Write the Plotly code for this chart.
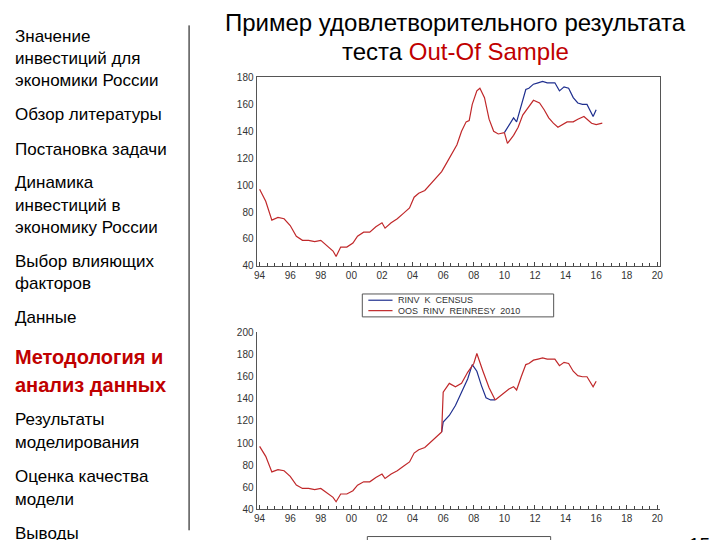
import plotly.graph_objects as go

# ---- data (years as decimals) ----
hist_x = [1994.0, 1994.4, 1994.8, 1995.2, 1995.6, 1996.0, 1996.4, 1996.8, 1997.2, 1997.6,
          1998.0, 1998.4, 1998.8, 1999.0, 1999.3, 1999.7, 2000.1, 2000.4, 2000.8, 2001.2,
          2001.6, 2002.0, 2002.2, 2002.6, 2003.0, 2003.4, 2003.8, 2004.1, 2004.4, 2004.8,
          2005.2, 2005.6, 2005.9]
hist_y = [97, 88, 74, 76, 75, 70, 62, 59, 59, 58,
          59, 55, 51, 47, 54, 54, 57, 62, 65, 65,
          69, 72, 68, 72, 75, 79, 83, 91, 94, 96,
          101, 106, 110]

# actual 2006-2010 (top chart)
act_mid_x = [2006.2, 2006.6, 2006.9, 2007.2, 2007.5, 2007.7, 2007.9, 2008.2, 2008.4, 2008.7,
             2009.0, 2009.3, 2009.6, 2010.0]
act_mid_y = [116, 124, 130, 140, 147, 148, 160, 170, 172, 165,
             149, 140, 138, 139]

# actual 2010-2016
act_late_x = [2010.0, 2010.3, 2010.6, 2010.8, 2011.1, 2011.4, 2011.6, 2011.9, 2012.2, 2012.5,
              2012.8, 2013.1, 2013.3, 2013.6, 2013.9, 2014.2, 2014.5, 2014.8, 2015.1, 2015.4,
              2015.8, 2016.0]
act_late_y = [139, 145, 150, 147, 160, 171, 172, 175, 176, 177,
              176, 176, 176, 170, 173, 172, 165, 161, 160, 160,
              151, 156]

# out-of-sample forecast from 2010
oos10_x = [2010.0, 2010.2, 2010.6, 2010.9, 2011.2, 2011.6, 2011.9, 2012.3, 2012.6, 2012.9,
           2013.2, 2013.5, 2013.8, 2014.1, 2014.5, 2014.8, 2015.2, 2015.4, 2015.7, 2016.0, 2016.4]
oos10_y = [139, 131, 137, 143, 152, 158, 163, 161, 156, 150,
           146, 143, 145, 147, 147, 149, 151, 149, 146, 145, 146]

# bottom chart: actual 2006-2009.4 and forecast from 2006
act06_x = [2005.9, 2006.0, 2006.4, 2006.8, 2007.2, 2007.6, 2007.9, 2008.2, 2008.5, 2008.8, 2009.1, 2009.4]
act06_y = [110, 119, 125, 134, 146, 158, 171, 165, 152, 141, 139, 139]
oos06_x = [2005.9, 2006.0, 2006.4, 2006.8, 2007.2, 2007.6, 2008.0, 2008.2, 2008.6, 2009.0, 2009.4]
oos06_y = [110, 146, 154, 151, 154, 164, 172, 181, 165, 150, 139]
after09_x = [2009.4, 2009.9, 2010.3, 2010.6, 2010.8, 2011.1, 2011.4, 2011.6, 2011.9, 2012.2,
             2012.5, 2012.8, 2013.1, 2013.3, 2013.6, 2013.9, 2014.2, 2014.5, 2014.8, 2015.1,
             2015.4, 2015.8, 2016.0]
after09_y = [139, 145, 149, 151, 148, 160, 171, 172, 175, 176,
             177, 176, 176, 176, 170, 173, 172, 165, 161, 160,
             160, 151, 156]

tick_vals = list(range(1994, 2021, 2))
tick_text = ["94", "96", "98", "00", "02", "04", "06", "08", "10", "12", "14", "16", "18", "20"]

legend1 = ["RINV  K  CENSUS", "OOS  RINV  REINRESY  2010"]
legend2 = ["RINV  K  CENSUS", "OOS_RINV_REINRES_2003"]

BLUE = "#1f2f8f"
RED = "#c0282a"


# screen pixel -> paper coordinate (corrects for the page offset seen in the render)
def PX(x):
    return ((x - 12.2) / 0.986) / 720


def PY(y):
    return 1 - ((y - 13.1) / 0.941) / 540


fig = go.Figure()

# top chart
fig.add_trace(go.Scatter(x=hist_x + act_mid_x, y=hist_y + act_mid_y, mode="lines",
                         line=dict(color=RED, width=1.2), xaxis="x", yaxis="y"))
fig.add_trace(go.Scatter(x=act_late_x, y=act_late_y, mode="lines",
                         line=dict(color=BLUE, width=1.2), xaxis="x", yaxis="y"))
fig.add_trace(go.Scatter(x=oos10_x, y=oos10_y, mode="lines",
                         line=dict(color=RED, width=1.2), xaxis="x", yaxis="y"))

# bottom chart
fig.add_trace(go.Scatter(x=hist_x, y=hist_y, mode="lines",
                         line=dict(color=RED, width=1.2), xaxis="x2", yaxis="y2"))
fig.add_trace(go.Scatter(x=act06_x, y=act06_y, mode="lines",
                         line=dict(color=BLUE, width=1.2), xaxis="x2", yaxis="y2"))
fig.add_trace(go.Scatter(x=oos06_x, y=oos06_y, mode="lines",
                         line=dict(color=RED, width=1.2), xaxis="x2", yaxis="y2"))
fig.add_trace(go.Scatter(x=after09_x, y=after09_y, mode="lines",
                         line=dict(color=RED, width=1.2), xaxis="x2", yaxis="y2"))

ax_common = dict(range=[1993.8, 2020.2], tickvals=tick_vals, ticktext=tick_text,
                 ticks="inside", ticklen=4, showgrid=False, zeroline=False,
                 showline=True, linecolor="#555", tickfont=dict(size=10, color="#333"),
                 minor=dict(ticks="inside", ticklen=3, dtick=0.5, tick0=1994))
ay_common = dict(showgrid=False, zeroline=False, showline=True, linecolor="#555",
                 ticks="", tickfont=dict(size=10, color="#333"), dtick=20)

fig.update_layout(
    width=720, height=540,
    margin=dict(l=0, r=0, t=0, b=0),
    showlegend=False,
    paper_bgcolor="white", plot_bgcolor="white",
    font=dict(family="Liberation Sans, Arial, sans-serif"),
    xaxis=dict(domain=[PX(257), PX(658)], anchor="y", mirror=True, **ax_common),
    yaxis=dict(domain=[PY(256), PY(75)], anchor="x", range=[40, 180], mirror=True, **ay_common),
    xaxis2=dict(domain=[PX(257), PX(658)], anchor="y2", **ax_common),
    yaxis2=dict(domain=[PY(490), PY(320)], anchor="x2", range=[40, 200], **ay_common),
)

# hand-drawn legend boxes (EViews style)
for (x0, x1, y0, y1), names in [((362, 552, 283, 305), legend1), ((367, 549, 516, 538), legend2)]:
    fig.add_shape(type="rect", xref="paper", yref="paper", x0=PX(x0), x1=PX(x1),
                  y0=PY(y1), y1=PY(y0), line=dict(color="#555", width=1))
    for i, (name, col) in enumerate(zip(names, [BLUE, RED])):
        yy = y0 + 6 + i * 10
        fig.add_shape(type="line", xref="paper", yref="paper", x0=PX(x0 + 6), x1=PX(x0 + 30),
                      y0=PY(yy), y1=PY(yy), line=dict(color=col, width=1.2))
        fig.add_annotation(x=PX(x0 + 33), y=PY(yy), xref="paper", yref="paper", text=name,
                           showarrow=False, xanchor="left", yanchor="middle",
                           font=dict(size=9, color="#333"))

# left menu
menu = [
    (36, "Значение"), (57, "инвестиций для"), (78, "экономики России"),
    (111, "Обзор литературы"), (144, "Постановка задачи"),
    (176, "Динамика"), (198, "инвестиций в"), (219, "экономику России"),
    (252, "Выбор влияющих"), (273, "факторов"), (306, "Данные"),
    (404, "Результаты"), (426, "моделирования"),
    (458, "Оценка качества"), (480, "модели"), (513, "Выводы"),
]
for py, txt in menu:
    fig.add_annotation(x=PX(15), y=PY(py), xref="paper", yref="paper", text=txt,
                       showarrow=False, xanchor="left", yanchor="middle",
                       font=dict(size=17, color="black"))
for py, txt in [(344, "Методология и"), (370, "анализ данных")]:
    fig.add_annotation(x=PX(15), y=PY(py), xref="paper", yref="paper",
                       text="<b>" + txt + "</b>", showarrow=False, xanchor="left",
                       yanchor="middle", font=dict(size=20, color="#c00000"))

fig.add_shape(type="line", xref="paper", yref="paper", x0=PX(190), x1=PX(190),
              y0=PY(25), y1=PY(510), line=dict(color="black", width=1))

# title
fig.add_annotation(x=PX(455), y=PY(22), xref="paper", yref="paper",
                   text="Пример удовлетворительного результата", showarrow=False,
                   font=dict(size=24, color="black"), yanchor="middle")
fig.add_annotation(x=PX(455), y=PY(50), xref="paper", yref="paper",
                   text="теста <span style='color:#c00000'>Out-Of Sample</span>", showarrow=False,
                   font=dict(size=24, color="black"), yanchor="middle")

fig.add_annotation(x=PX(697), y=PY(524), xref="paper", yref="paper", text="15",
                   showarrow=False, xanchor="center", yanchor="middle",
                   font=dict(size=19, color="black"))

fig.write_html("out.html")
